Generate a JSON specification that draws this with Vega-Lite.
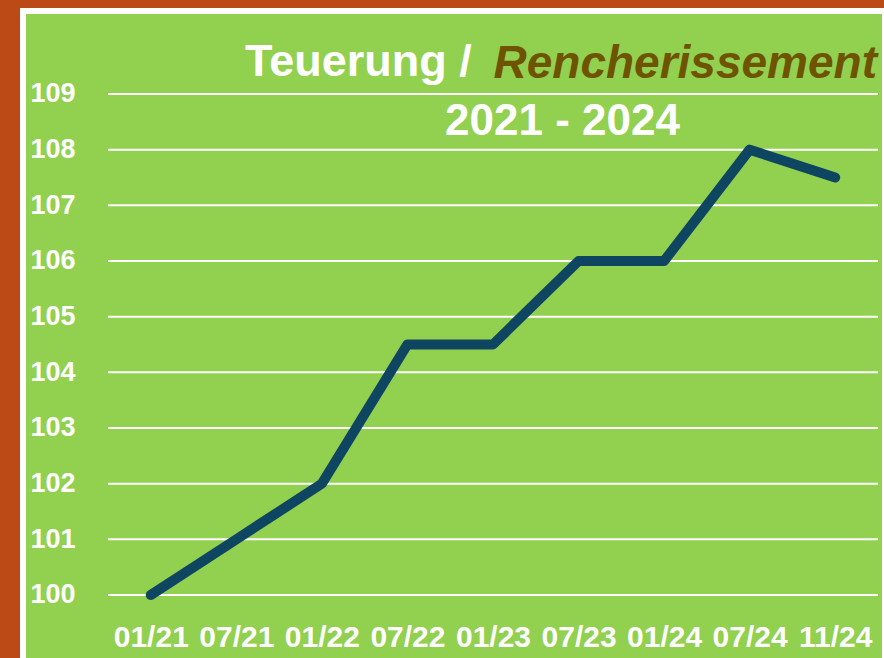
{
  "$schema": "https://vega.github.io/schema/vega-lite/v6.json",
  "width": 862,
  "height": 650,
  "autosize": {"type": "none"},
  "padding": {"left": 23, "top": 11, "right": 0, "bottom": 0},
  "background": "#BC4A17",
  "config": {
    "view": {"fill": "#92D050", "stroke": "#FFFFFF", "strokeWidth": 6},
    "font": "Liberation Sans"
  },
  "title": {
    "text": "Teuerung  /",
    "frame": "group",
    "anchor": "start",
    "orient": "top",
    "baseline": "alphabetic",
    "offset": -66,
    "dx": 222,
    "dy": 44,
    "color": "#FFFFFF",
    "font": "Liberation Sans",
    "fontSize": 45,
    "fontWeight": "bold"
  },
  "datasets": {
    "series": [
      {"period": "01/21", "i": 0, "value": 100},
      {"period": "07/21", "i": 1, "value": 101},
      {"period": "01/22", "i": 2, "value": 102},
      {"period": "07/22", "i": 3, "value": 104.5},
      {"period": "01/23", "i": 4, "value": 104.5},
      {"period": "07/23", "i": 5, "value": 106},
      {"period": "01/24", "i": 6, "value": 106},
      {"period": "07/24", "i": 7, "value": 108},
      {"period": "11/24", "i": 8, "value": 107.5}
    ],
    "grid": [
      {"g": 100}, {"g": 101}, {"g": 102}, {"g": 103}, {"g": 104},
      {"g": 105}, {"g": 106}, {"g": 107}, {"g": 108}, {"g": 109}
    ]
  },
  "layer": [
    {
      "data": {"name": "grid"},
      "mark": {"type": "rule", "color": "#FFFFFF", "strokeWidth": 2},
      "encoding": {
        "y": {
          "field": "g",
          "type": "quantitative",
          "scale": {"domain": [98.814, 110.491], "nice": false, "zero": false},
          "axis": {
            "values": [100, 101, 102, 103, 104, 105, 106, 107, 108, 109],
            "format": "d",
            "grid": false,
            "ticks": false,
            "tickSize": 0,
            "domain": false,
            "labelAlign": "left",
            "labelBaseline": "middle",
            "labelPadding": -7,
            "labelColor": "#FFFFFF",
            "labelFont": "Liberation Sans",
            "labelFontSize": 27,
            "labelFontWeight": "bold",
            "labelFlush": false,
            "labelOverlap": false,
            "title": "Rencherissement",
            "titleAngle": 0,
            "titleX": 470,
            "titleY": 66,
            "titleAlign": "left",
            "titleBaseline": "alphabetic",
            "titleColor": "#6E5300",
            "titleFont": "Liberation Sans",
            "titleFontSize": 46,
            "titleFontWeight": "bold",
            "titleFontStyle": "italic"
          }
        },
        "x": {"datum": -0.5, "type": "quantitative"},
        "x2": {"datum": 8.5}
      }
    },
    {
      "data": {"name": "series"},
      "mark": {"type": "line", "color": "#0E4662", "strokeWidth": 10, "strokeCap": "round", "strokeJoin": "round"},
      "encoding": {
        "x": {
          "field": "i",
          "type": "quantitative",
          "scale": {"domain": [-1.4935, 8.582], "nice": false, "zero": false},
          "axis": {
            "values": [0, 1, 2, 3, 4, 5, 6, 7, 8],
            "labelExpr": "['01/21','07/21','01/22','07/22','01/23','07/23','01/24','07/24','11/24'][datum.value]",
            "grid": false,
            "ticks": false,
            "tickSize": 0,
            "domain": false,
            "labelBaseline": "alphabetic",
            "labelPadding": -15,
            "labelColor": "#FFFFFF",
            "labelFont": "Liberation Sans",
            "labelFontSize": 30,
            "labelFontWeight": "bold",
            "labelFlush": false,
            "labelOverlap": false,
            "title": "2021 - 2024",
            "titleX": 539,
            "titleY": -527,
            "titleAlign": "center",
            "titleBaseline": "alphabetic",
            "titleColor": "#FFFFFF",
            "titleFont": "Liberation Sans",
            "titleFontSize": 44,
            "titleFontWeight": "bold"
          }
        },
        "y": {"field": "value", "type": "quantitative"}
      }
    }
  ]
}
